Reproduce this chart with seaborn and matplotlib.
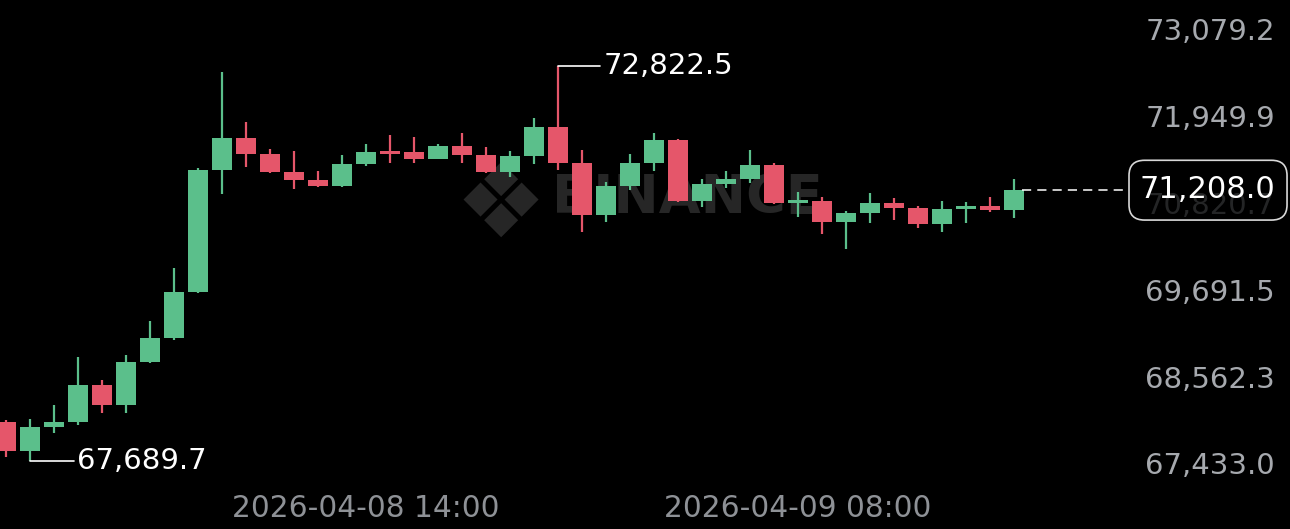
import pandas as pd
import matplotlib
matplotlib.use('Agg')
import matplotlib.pyplot as plt
import matplotlib.transforms as mtransforms
from matplotlib.patches import FancyBboxPatch
import seaborn as sns

# hourly candles, 2026-04-07 23:00 .. 2026-04-09 17:00
opens = [68196, 67816, 68124, 68196, 68669, 68413, 68972, 69280, 69882, 71467,
         71879, 71679, 71441, 71337, 71263, 71539, 71712, 71705, 71610, 71779,
         71658, 71445, 71652, 72030, 71562, 70882, 71263, 71554, 71857, 71068,
         71281, 71346, 71532, 71034, 71068, 70795, 70904, 71042, 70969, 70769,
         70964, 71003, 70947]
highs = [68218, 68228, 68413, 69033, 68738, 69059, 69505, 70198, 71489, 72741,
         72087, 71736, 71710, 71458, 71662, 71805, 71922, 71900, 71805, 71944,
         71770, 71710, 72149, 72822.5, 71727, 71315, 71671, 71944, 71866, 71346,
         71458, 71727, 71554, 71185, 71112, 70934, 71172, 71099, 70995, 71068,
         71055, 71112, 71354]
lows = [67734, 67689.7, 68046, 68153, 68305, 68313, 68960, 69258, 69870, 71155,
        71510, 71424, 71216, 71250, 71250, 71523, 71554, 71554, 71605, 71554,
        71424, 71376, 71545, 71467, 70665, 70791, 71207, 71458, 71055, 70990,
        71229, 71302, 71025, 70860, 70635, 70437, 70782, 70817, 70709, 70665,
        70782, 70921, 70847]
closes = [67816, 68124, 68196, 68669, 68413, 68972, 69280, 69882, 71467, 71879,
          71679, 71441, 71337, 71263, 71539, 71705, 71671, 71610, 71779, 71658,
          71445, 71652, 72030, 71562, 70882, 71263, 71554, 71857, 71068, 71281,
          71346, 71532, 71034, 71077, 70795, 70904, 71042, 70969, 70769, 70964,
          71003, 70947, 71208.0]

price_ticks = [73079.2, 71949.9, 70820.7, 69691.5, 68562.3, 67433.0]
time_labels = ['2026-04-08 14:00', '2026-04-09 08:00']
last_price = 71208.0
high_label = 72822.5
low_label = 67689.7

GREEN = '#5bbf8b'
RED = '#e5566a'
BG = '#000000'

df = pd.DataFrame({'time': pd.date_range('2026-04-07 23:00', periods=len(opens), freq='h'),
                   'open': opens, 'high': highs, 'low': lows, 'close': closes})
df['x'] = range(len(df))
df['up'] = df['close'] >= df['open']
df['color'] = df['up'].map({True: GREEN, False: RED})

sns.set_theme(style='dark', rc={'axes.facecolor': BG, 'figure.facecolor': BG})
plt.rcParams['font.family'] = ['DejaVu Sans']

fig = plt.figure(figsize=(12.9, 5.29), dpi=100)
ax = fig.add_axes([0, 0, 1, 1])
ax.set_facecolor(BG)

# watermark
ax.text(0.388, 0.605, '\u2756', transform=ax.transAxes, fontsize=74, color='#262626',
        ha='center', va='center', zorder=0)
ax.text(0.533, 0.625, 'BINANCE', transform=ax.transAxes, fontsize=39, fontweight='bold',
        color='#262626', ha='center', va='center', zorder=0)

# wicks and bodies
ax.vlines(df['x'], df['low'], df['high'], colors=df['color'], linewidth=1.6, zorder=2)
body_low = df[['open', 'close']].min(axis=1)
body_h = (df['close'] - df['open']).abs().clip(lower=12)
ax.bar(df['x'], body_h, bottom=body_low, width=0.86, color=df['color'],
       linewidth=0, zorder=3)

ax.set_xlim(-0.25, 53.5)
ax.set_ylim(66801.9, 73676.3)
ax.set_xticks([])
ax.set_yticks([])
for s in ax.spines.values():
    s.set_visible(False)

# price scale labels on the right (drawn above their level)
blend = mtransforms.blended_transform_factory(ax.transAxes, ax.transData)
lbl_tr = mtransforms.offset_copy(blend, fig=fig, y=14, units='dots')
for p in price_ticks:
    ax.text(0.9884, p, f'{p:,.1f}', transform=lbl_tr, ha='right', va='center',
            fontsize=21, color='#a6a9ae', zorder=1)

# time labels
tblend = mtransforms.blended_transform_factory(ax.transData, ax.transAxes)
for lab in time_labels:
    xi = df.index[df['time'] == pd.Timestamp(lab)][0]
    ax.text(xi, 0.038, lab, transform=tblend, ha='center', va='center',
            fontsize=21.3, color='#8e9196')

# high / low markers
hi_i = df['high'].idxmax()
ax.plot([hi_i, hi_i + 1.75], [high_label, high_label], color='white', lw=1.2, zorder=4)
ax.text(hi_i + 1.9, high_label, f'{high_label:,.1f}', color='white', fontsize=21,
        ha='left', va='center', zorder=4)
lo_i = df['low'].idxmin()
ax.plot([lo_i, lo_i + 1.85], [low_label, low_label], color='white', lw=1.2, zorder=4)
ax.text(lo_i + 1.95, low_label, f'{low_label:,.1f}', color='white', fontsize=21,
        ha='left', va='center', zorder=4)

# last price dashed line and box
last_i = df['x'].iloc[-1]
ax.plot([last_i + 0.35, 46.75], [last_price, last_price], color='white', lw=1.1,
        ls=(0, (6, 4)), zorder=4)
box = FancyBboxPatch((0.8752, 0.584), 0.1225, 0.113, transform=ax.transAxes,
                     boxstyle='round,pad=0,rounding_size=0.012',
                     facecolor=(0, 0, 0, 0.78), edgecolor='#d8d8d8', lw=1.2, zorder=5,
                     mutation_aspect=2.4)
ax.add_patch(box)
ax.text(0.9884, last_price, f'{last_price:,.1f}', transform=blend, ha='right',
        va='center', fontsize=22, color='white', zorder=6)

fig.savefig('out.png', dpi=100, facecolor=BG)
